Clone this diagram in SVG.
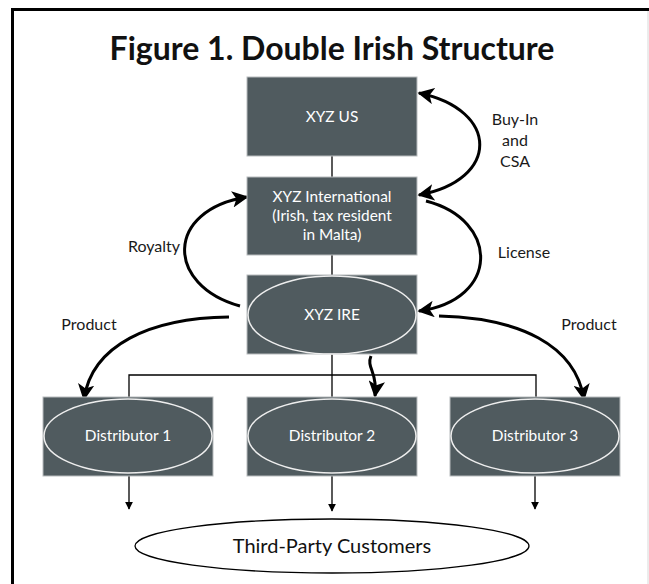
<svg xmlns="http://www.w3.org/2000/svg" width="649" height="584" viewBox="0 0 649 584">
<defs>
<style>
.box{fill:#505b5f;stroke:#b8bcbe;stroke-width:1}
.ell{fill:none;stroke:#eeeeee;stroke-width:1.5}
.nt{font-family:Lato,"Open Sans",sans-serif;font-size:15.4px;fill:#ffffff;text-anchor:middle}
.lbl{font-family:Lato,"Open Sans",sans-serif;font-size:16px;fill:#1a1a1a;text-anchor:middle}
.thin{fill:none;stroke:#000;stroke-width:1.3}
.big{fill:none;stroke:#000;stroke-width:3}
</style>
<marker id="ah" viewBox="0 0 10 10" refX="9" refY="5" markerWidth="5.5" markerHeight="5.5" orient="auto-start-reverse" markerUnits="strokeWidth">
<path d="M0,0 L10,5 L0,10 L2.5,5 Z" fill="#000"/>
</marker>
<marker id="sh" viewBox="0 0 10 10" refX="9" refY="5" markerWidth="6" markerHeight="6" orient="auto" markerUnits="strokeWidth">
<path d="M0,0 L10,5 L0,10 Z" fill="#000"/>
</marker>
</defs>
<rect width="649" height="584" fill="#ffffff"/>
<path d="M12.5,584 V9.5 H649" fill="none" stroke="#000" stroke-width="3"/>
<line x1="648" y1="11" x2="648" y2="584" stroke="#d8d8d8" stroke-width="1"/>
<text x="332" y="60" font-family="Lato,'Open Sans',sans-serif" font-weight="bold" font-size="32" text-anchor="middle" fill="#111">Figure 1. Double Irish Structure</text>

<g id="connectors">
<line class="thin" x1="332" y1="156" x2="332" y2="177"/>
<line class="thin" x1="332" y1="255" x2="332" y2="275"/>
<line class="thin" x1="332" y1="354" x2="332" y2="397"/>
<path class="thin" d="M129,397 V375 H536 V397"/>
<line class="thin" x1="129" y1="476" x2="129" y2="509" marker-end="url(#sh)"/>
<line class="thin" x1="332" y1="476" x2="332" y2="511" marker-end="url(#sh)"/>
<line class="thin" x1="535" y1="476" x2="535" y2="509" marker-end="url(#sh)"/>
<path class="big" d="M419,93 C500,110 500,180 419,195" marker-start="url(#ah)" marker-end="url(#ah)"/>
<path class="big" d="M426,201 C500,220 500,300 419,311" marker-end="url(#ah)"/>
<path class="big" d="M240,306 C165,285 165,210 247,197" marker-end="url(#ah)"/>
<path class="big" d="M229,317 C150,318 92,345 84,399" marker-end="url(#ah)"/>
<path class="big" d="M439,316 C520,318 575,345 584,399" marker-end="url(#ah)"/>
<path class="big" d="M371,356 C366,368 378,372 375,396" marker-end="url(#ah)"/>
<text class="lbl" x="515" y="125">Buy-In</text>
<text class="lbl" x="515" y="146">and</text>
<text class="lbl" x="515" y="167">CSA</text>
<text class="lbl" x="524" y="258">License</text>
<text class="lbl" x="154" y="252">Royalty</text>
<text class="lbl" x="89" y="330">Product</text>
<text class="lbl" x="589" y="330">Product</text>
</g>

<g id="xyz-us">
<rect class="box" x="247" y="77" width="170" height="79"/>
<text class="nt" x="332" y="122">XYZ US</text>
</g>
<g id="xyz-international">
<rect class="box" x="247" y="177" width="170" height="78"/>
<text class="nt" x="332" y="202">XYZ International</text>
<text class="nt" x="332" y="221">(Irish, tax resident</text>
<text class="nt" x="332" y="240">in Malta)</text>
</g>
<g id="xyz-ire">
<rect class="box" x="247" y="275" width="170" height="79"/>
<ellipse class="ell" cx="332" cy="315" rx="84" ry="39"/>
<text class="nt" x="332" y="320">XYZ IRE</text>
</g>
<g id="distributor-1">
<rect class="box" x="43" y="397" width="170" height="79"/>
<ellipse class="ell" cx="128" cy="436" rx="84" ry="37"/>
<text class="nt" x="128" y="441">Distributor 1</text>
</g>
<g id="distributor-2">
<rect class="box" x="247" y="397" width="170" height="79"/>
<ellipse class="ell" cx="332" cy="436" rx="84" ry="37"/>
<text class="nt" x="332" y="441">Distributor 2</text>
</g>
<g id="distributor-3">
<rect class="box" x="450" y="397" width="170" height="79"/>
<ellipse class="ell" cx="535" cy="436" rx="84" ry="37"/>
<text class="nt" x="535" y="441">Distributor 3</text>
</g>
<g id="third-party-customers">
<ellipse cx="332" cy="546" rx="197" ry="27" fill="#fff" stroke="#000" stroke-width="1.3"/>
<text x="332" y="553" font-family="Lato,'Open Sans',sans-serif" font-size="20" text-anchor="middle" fill="#111">Third-Party Customers</text>
</g>
</svg>
